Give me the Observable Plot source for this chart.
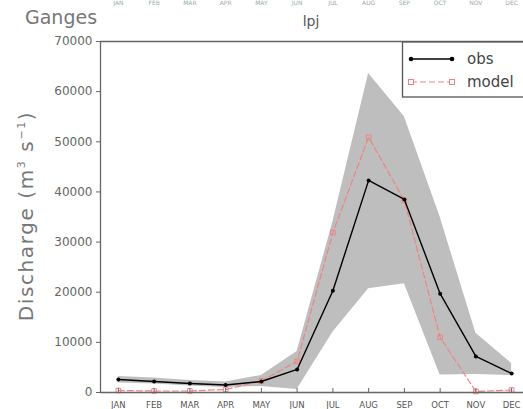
<!DOCTYPE html>
<html>
<head>
<meta charset="utf-8">
<script src="https://cdn.jsdelivr.net/npm/d3@7"></script>
<script src="https://cdn.jsdelivr.net/npm/@observablehq/plot@0.6"></script>
<style>
  html, body { margin: 0; padding: 0; background: white; }
  #chart { width: 523px; height: 409px; overflow: hidden; }
</style>
</head>
<body>
<div id="chart"></div>
<script>
const months = ["JAN","FEB","MAR","APR","MAY","JUN","JUL","AUG","SEP","OCT","NOV","DEC"];
const obs    = [2600, 2200, 1800, 1500, 2200, 4600, 20300, 42300, 38500, 19700, 7200, 3800];
const model  = [400, 300, 300, 600, 2300, 6200, 31900, 50900, 38300, 11000, 200, 500];
const bandHi = [3200, 2900, 2400, 2100, 3400, 8200, 34000, 63600, 55000, 35000, 11800, 5800];
const bandLo = [1900, 1700, 1300, 1000, 1200, 600, 12000, 20700, 21700, 3500, 3600, 3400];
const yTicks = [0, 10000, 20000, 30000, 40000, 50000, 60000, 70000];
const monthIdx = months.map((m, i) => i + 1);

const data = months.map((m, i) => ({i: i + 1, m, obs: obs[i], model: model[i], lo: bandLo[i], hi: bandHi[i]}));

const axisColor = "#666";
const modelColor = "#ee8484";

const chart = Plot.plot({
  width: 523, height: 409,
  marginLeft: 100, marginTop: 41, marginBottom: 17, marginRight: 0,
  x: {domain: [0.5, 12.5], range: [100, 529]},
  y: {domain: [0, 70000], range: [392, 41]},
  style: {fontFamily: "DejaVu Sans", background: "white"},
  marks: [
    Plot.areaY(data, {x: "i", y1: "lo", y2: "hi", fill: "#bebebe"}),
    Plot.lineY(data, {x: "i", y: "model", stroke: modelColor, strokeWidth: 1.2, strokeDasharray: "6,3"}),
    Plot.dot(data, {x: "i", y: "model", symbol: "square", r: 2.6, stroke: modelColor, fill: "none", strokeWidth: 1}),
    Plot.lineY(data, {x: "i", y: "obs", stroke: "black", strokeWidth: 1.4}),
    Plot.dot(data, {x: "i", y: "obs", r: 2, fill: "black"}),
    Plot.ruleY([0], {stroke: axisColor, strokeWidth: 1.3}),
    Plot.ruleY([70000], {stroke: axisColor, strokeWidth: 1.5}),
    Plot.ruleX([0.5], {stroke: axisColor, strokeWidth: 1.3}),
    Plot.ruleX(monthIdx, {x: d => d, y1: 0, y2: 800, stroke: axisColor}),
    Plot.axisY({ticks: yTicks, tickFormat: d => String(d), tickSize: 4, tickPadding: 4, fontSize: 12, fill: "#666", stroke: axisColor, label: null}),
    Plot.axisX({ticks: monthIdx, tickFormat: i => months[i - 1], tickSize: 0, tickPadding: 9, fontSize: 8.5, fill: "#555", label: null}),
    Plot.text(monthIdx, {x: d => d, y: 70000, text: i => months[i - 1], dy: -38, fontSize: 6, fill: "#9aa", frameAnchor: "middle"})
  ]
});

document.getElementById("chart").appendChild(chart);

const svg = d3.select(chart);
svg.style("overflow", "hidden");

function txt(x, y, size, fill, s, anchor) {
  return svg.append("text").attr("x", x).attr("y", y).attr("font-size", size).attr("fill", fill)
    .attr("font-family", "DejaVu Sans").attr("text-anchor", anchor || "start").text(s);
}

// Titles
txt(25, 24, 19, "#777", "Ganges");
txt(311, 26, 14, "#555", "lpj", "middle");

// Y-axis label
const yl = svg.append("text").attr("transform", "translate(33,216) rotate(-90)")
  .attr("text-anchor", "middle").attr("font-size", 20).attr("fill", "#777")
  .attr("letter-spacing", 1.6).attr("font-family", "DejaVu Sans");
yl.append("tspan").text("Discharge (m");
yl.append("tspan").attr("dy", -8).attr("font-size", 11).text("3");
yl.append("tspan").attr("dy", 8).text(" s");
yl.append("tspan").attr("dy", -8).attr("font-size", 11).text("−1");
yl.append("tspan").attr("dy", 8).text(")");

// Legend
const lg = svg.append("g");
lg.append("rect").attr("x", 402.5).attr("y", 42).attr("width", 130).attr("height", 55)
  .attr("fill", "white").attr("stroke", "#555").attr("stroke-width", 1.3);
lg.append("line").attr("x1", 411).attr("x2", 452).attr("y1", 59).attr("y2", 59)
  .attr("stroke", "black").attr("stroke-width", 1.4);
lg.append("circle").attr("cx", 411).attr("cy", 59).attr("r", 2.3).attr("fill", "black");
lg.append("circle").attr("cx", 452).attr("cy", 59).attr("r", 2.3).attr("fill", "black");
lg.append("line").attr("x1", 411).attr("x2", 452).attr("y1", 82).attr("y2", 82)
  .attr("stroke", modelColor).attr("stroke-width", 1.2).attr("stroke-dasharray", "6,3");
lg.append("rect").attr("x", 408.5).attr("y", 79.5).attr("width", 5).attr("height", 5)
  .attr("fill", "white").attr("stroke", modelColor);
lg.append("rect").attr("x", 449.5).attr("y", 79.5).attr("width", 5).attr("height", 5)
  .attr("fill", "white").attr("stroke", modelColor);
txt(467, 64, 15, "#444", "obs");
txt(467, 87, 15, "#444", "model");
</script>
</body>
</html>
